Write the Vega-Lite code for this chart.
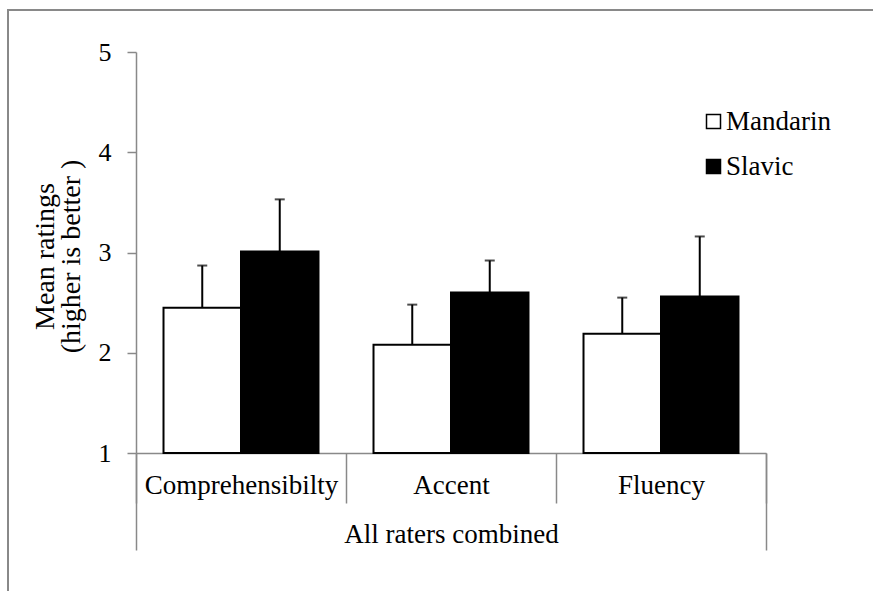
{
  "$schema": "https://vega.github.io/schema/vega-lite/v6.json",
  "width": 630,
  "height": 401,
  "autosize": "none",
  "padding": {"left": 136, "top": 52, "right": 107, "bottom": 138},
  "background": "white",
  "config": {
    "view": {"stroke": null},
    "font": "Liberation Serif",
    "axis": {"labelFont": "Liberation Serif", "titleFont": "Liberation Serif", "labelLimit": 400},
    "legend": {"labelFont": "Liberation Serif", "titleFont": "Liberation Serif", "labelLimit": 400}
  },
  "data": {
    "values": [
      {"cat": "Comprehensibilty", "group": "Mandarin", "mean": 2.45, "upper": 2.87},
      {"cat": "Comprehensibilty", "group": "Slavic", "mean": 3.01, "upper": 3.53},
      {"cat": "Accent", "group": "Mandarin", "mean": 2.08, "upper": 2.48},
      {"cat": "Accent", "group": "Slavic", "mean": 2.60, "upper": 2.92},
      {"cat": "Fluency", "group": "Mandarin", "mean": 2.19, "upper": 2.55},
      {"cat": "Fluency", "group": "Slavic", "mean": 2.56, "upper": 3.16}
    ]
  },
  "layer": [
    {
      "mark": {"type": "rect", "filled": false, "stroke": "#898989", "strokeWidth": 1.3},
      "encoding": {
        "x": {"datum": -0.6095, "type": "quantitative", "scale": {"domain": [0, 3], "nice": false, "zero": false},
          "axis": {"orient": "bottom", "values": [0, 3], "tickSize": 97, "labels": false, "domain": false, "title": null, "grid": false, "tickColor": "#898989", "tickWidth": 1.5}},
        "x2": {"datum": 10},
        "y": {"datum": 5.419, "type": "quantitative"},
        "y2": {"datum": -5}
      }
    },
    {
      "encoding": {
        "x": {"field": "cat", "type": "nominal", "sort": ["Comprehensibilty", "Accent", "Fluency"],
          "scale": {"paddingInner": 0, "paddingOuter": 0},
          "axis": {"orient": "bottom", "title": "All raters combined", "tickBand": "extent", "tickSize": 50, "tickColor": "#898989", "tickWidth": 1.5,
            "domainColor": "#898989", "domainWidth": 1.5, "labelAngle": 0, "labelFontSize": 27, "labelColor": "black",
            "labelLimit": 400, "labelPadding": -31, "titleFontSize": 27, "titleFontWeight": "normal", "titleColor": "black",
            "titleY": 89, "titleBaseline": "alphabetic", "grid": false}},
        "xOffset": {"field": "group", "type": "nominal", "sort": ["Mandarin", "Slavic"], "scale": {"paddingOuter": 0.355, "paddingInner": 0}}
      },
      "layer": [
        {
          "mark": {"type": "bar", "stroke": "black", "strokeWidth": 2},
          "encoding": {
            "y": {"field": "mean", "type": "quantitative", "scale": {"domain": [1, 5], "zero": false, "nice": false},
              "axis": {"values": [1, 2, 3, 4, 5], "format": "d", "grid": false, "tickSize": 9, "tickColor": "#898989", "tickWidth": 1.5,
                "domainColor": "#898989", "domainWidth": 1.5, "labelFontSize": 26, "labelColor": "black", "labelPadding": 16,
                "title": ["Mean ratings", "(higher is better )"], "titleFontSize": 28, "titleFontWeight": "normal",
                "titleColor": "black", "titleX": -91, "titleY": 204, "titleAngle": 270, "titleBaseline": "middle", "titleAlign": "center", "titleLineHeight": 26}},
            "y2": {"datum": 1},
            "fill": {"field": "group", "type": "nominal", "scale": {"domain": ["Mandarin", "Slavic"], "range": ["white", "black"]},
              "legend": {"title": null, "orient": "none", "legendX": 564, "legendY": 56, "symbolType": "square", "symbolSize": 196,
                "symbolStrokeColor": "black", "symbolStrokeWidth": 1.5, "labelFontSize": 27, "labelColor": "black",
                "labelOffset": -1, "rowPadding": 17, "padding": 0}}
          }
        },
        {
          "mark": {"type": "rule", "color": "black", "strokeWidth": 2},
          "encoding": {
            "y": {"field": "mean", "type": "quantitative"},
            "y2": {"field": "upper"}
          }
        },
        {
          "mark": {"type": "tick", "orient": "horizontal", "color": "black", "thickness": 2, "size": 10},
          "encoding": {
            "y": {"field": "upper", "type": "quantitative"}
          }
        }
      ]
    }
  ],
  "resolve": {"scale": {"x": "independent"}, "axis": {"x": "independent"}}
}
